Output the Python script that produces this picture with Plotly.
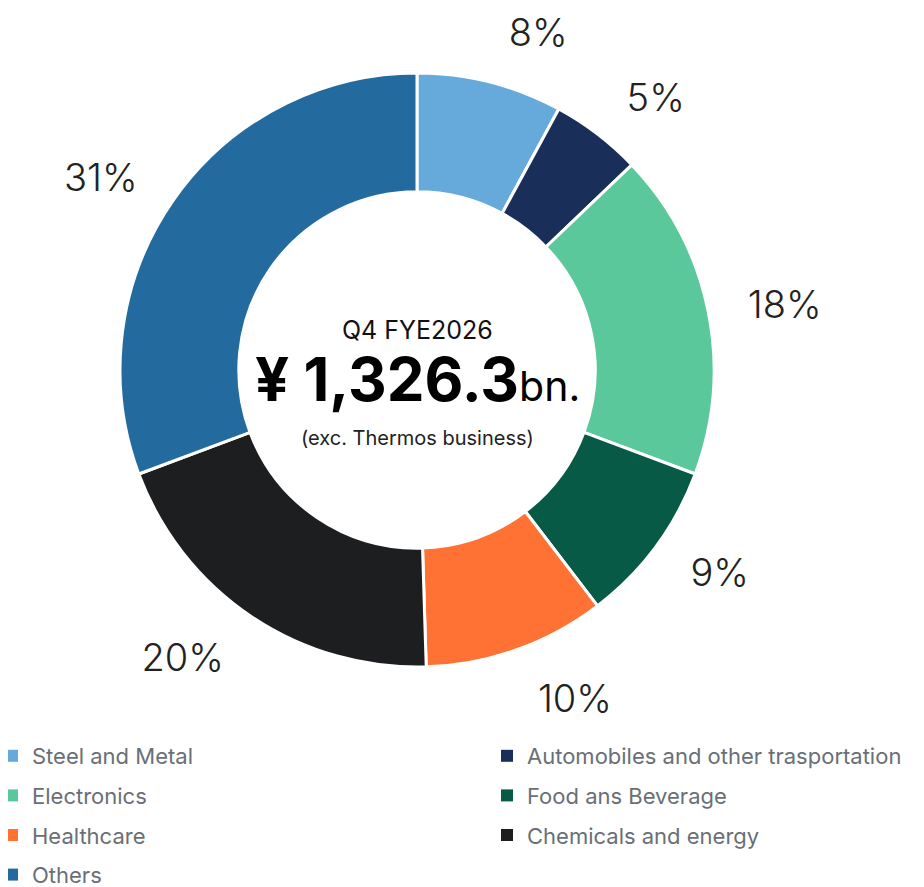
import plotly.graph_objects as go

# sector share of the total (%), clockwise from 12 o'clock
sectors = [
    "Steel and Metal",
    "Automobiles and other trasportation",
    "Electronics",
    "Food ans Beverage",
    "Healthcare",
    "Chemicals and energy",
    "Others",
]
shares = [8, 5, 18, 9, 10, 20, 31]
colors = ["#66aadb", "#1a2e5a", "#5bc89c", "#065a46", "#ff7233", "#1d1e20", "#236a9e"]

period = "Q4 FYE2026"
total = "1,326.3"
note = "(exc. Thermos business)"

W, H = 924, 887
# positions in figure pixels (the page adds an 8px body margin)
cx, cy, r = 409, 362, 297
r_lab = 326  # invisible outer ring that carries the % labels
FONT = "Inter"


def dom(rad):
    return dict(x=[(cx - rad) / W, (cx + rad) / W],
                y=[1 - (cy + rad) / H, 1 - (cy - rad) / H])


def py(px):
    return 1 - px / H


fig = go.Figure()

fig.add_trace(go.Pie(
    labels=sectors,
    values=shares,
    sort=False,
    direction="clockwise",
    rotation=0,
    hole=0.6,
    marker=dict(colors=colors, line=dict(color="white", width=3)),
    textinfo="none",
    hoverinfo="label+percent",
    showlegend=False,
    domain=dom(r),
))

# same slices, transparent, only to push the labels further out
fig.add_trace(go.Pie(
    labels=sectors,
    values=shares,
    sort=False,
    direction="clockwise",
    rotation=0,
    hole=0.95,
    marker=dict(colors=["rgba(0,0,0,0)"] * len(sectors), line=dict(width=0)),
    texttemplate="%{value}%",
    textposition="outside",
    outsidetextfont=dict(size=38, color="#222222", family=FONT, weight=300),
    hoverinfo="skip",
    showlegend=False,
    domain=dom(r_lab),
))

# legend entries: two columns, read row by row
for i, (name, col) in enumerate(zip(sectors, colors)):
    fig.add_trace(go.Scatter(
        x=[None], y=[None],
        mode="markers",
        name=name,
        marker=dict(symbol="square", size=12, color=col),
        legend="legend" if i % 2 == 0 else "legend2",
        legendgroup=name,
        hoverinfo="skip",
    ))

center_x = cx / W
fig.add_annotation(x=center_x, y=py(322), xref="paper", yref="paper",
                   text=period, showarrow=False,
                   font=dict(size=25, color="#111111", family=FONT))
fig.add_annotation(x=center_x, y=py(371), xref="paper", yref="paper",
                   text="<b>¥ " + total + "</b><span style='font-size:41px'>bn.</span>",
                   showarrow=False,
                   font=dict(size=60, color="#000000", family=FONT))
fig.add_annotation(x=center_x, y=py(430), xref="paper", yref="paper",
                   text=note, showarrow=False,
                   font=dict(size=20, color="#222222", family=FONT))

legend_style = dict(
    orientation="v",
    xanchor="left",
    y=py(727),
    yanchor="top",
    font=dict(size=22, color="#6a6f76", family=FONT),
    tracegroupgap=8,
    bgcolor="rgba(0,0,0,0)",
)

fig.update_layout(
    width=W,
    height=H,
    margin=dict(l=0, r=0, t=0, b=0, autoexpand=False),
    paper_bgcolor="white",
    plot_bgcolor="white",
    xaxis=dict(visible=False),
    yaxis=dict(visible=False),
    legend=dict(x=-16 / W, **legend_style),
    legend2=dict(x=479 / W, **legend_style),
)

fig.write_html("out.html")
